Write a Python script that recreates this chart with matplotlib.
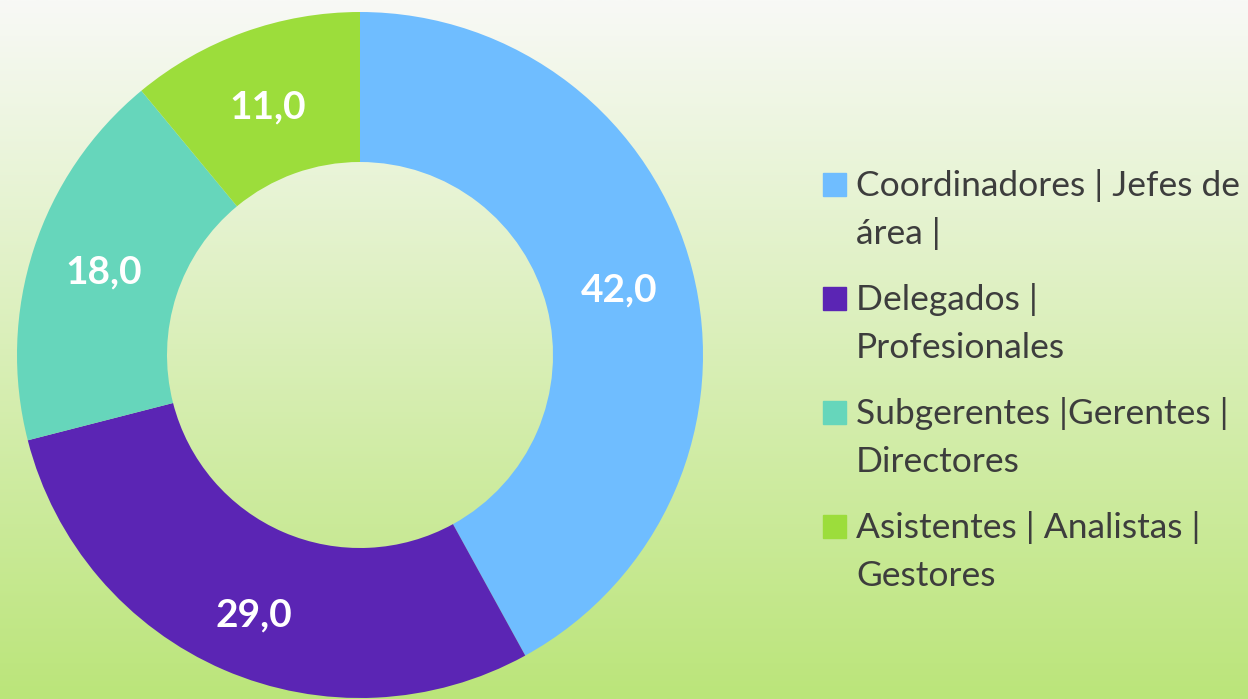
import numpy as np
import matplotlib
matplotlib.use("Agg")
from matplotlib import pyplot as plt
from matplotlib.patches import Rectangle

# data
categorias = [
    "Coordinadores | Jefes de\nárea |",
    "Delegados |\nProfesionales",
    "Subgerentes |Gerentes |\nDirectores",
    "Asistentes | Analistas |\nGestores",
]
valores = [42.0, 29.0, 18.0, 11.0]
colores = ["#6fbdff", "#5b25b4", "#66d6bb", "#9cdd3b"]

W, H = 1248, 699
fig = plt.figure(figsize=(W / 100, H / 100), dpi=100)
ax = fig.add_axes([0, 0, 1, 1])

# background gradient (top light, bottom green)
top = np.array([248, 249, 246]) / 255
bot = np.array([187, 229, 122]) / 255
t = np.linspace(0, 1, 256)[:, None]
grad = top * (1 - t) + bot * t
ax.imshow(grad[:, None, :].repeat(2, axis=1), extent=(0, W, 0, H), aspect="auto", zorder=0)

wedges, _, autotexts = ax.pie(
    valores,
    colors=colores,
    startangle=90,
    counterclock=False,
    center=(360, 344),
    radius=343,
    frame=True,
    wedgeprops=dict(width=150, linewidth=0),
    autopct=lambda p: f"{p:.1f}".replace(".", ","),
    pctdistance=0.78,
    textprops=dict(color="white", fontsize=28, fontweight="bold", family="Lato"),
)
# small nudges of the value labels (pixels)
nudges = [(0, -2), (0, -14), (-2, 0), (-2, -4)]
for txt, (dx, dy) in zip(autotexts, nudges):
    x, y = txt.get_position()
    txt.set_position((x + dx, y + dy))

ax.set_xlim(0, W)
ax.set_ylim(0, H)
ax.set_aspect("equal")
ax.axis("off")

# legend drawn by hand
y0 = H - 196
for i, (lab, col) in enumerate(zip(categorias, colores)):
    yb = y0 - i * 114
    ax.add_patch(Rectangle((823, yb), 23, 23, color=col, zorder=3))
    for j, linea in enumerate(lab.split("\n")):
        ax.text(856, yb - j * 48, linea, fontsize=25.5, color="#3d3d3d", family="Lato",
                va="baseline", ha="left", zorder=3)

fig.savefig("out.png", dpi=100)
